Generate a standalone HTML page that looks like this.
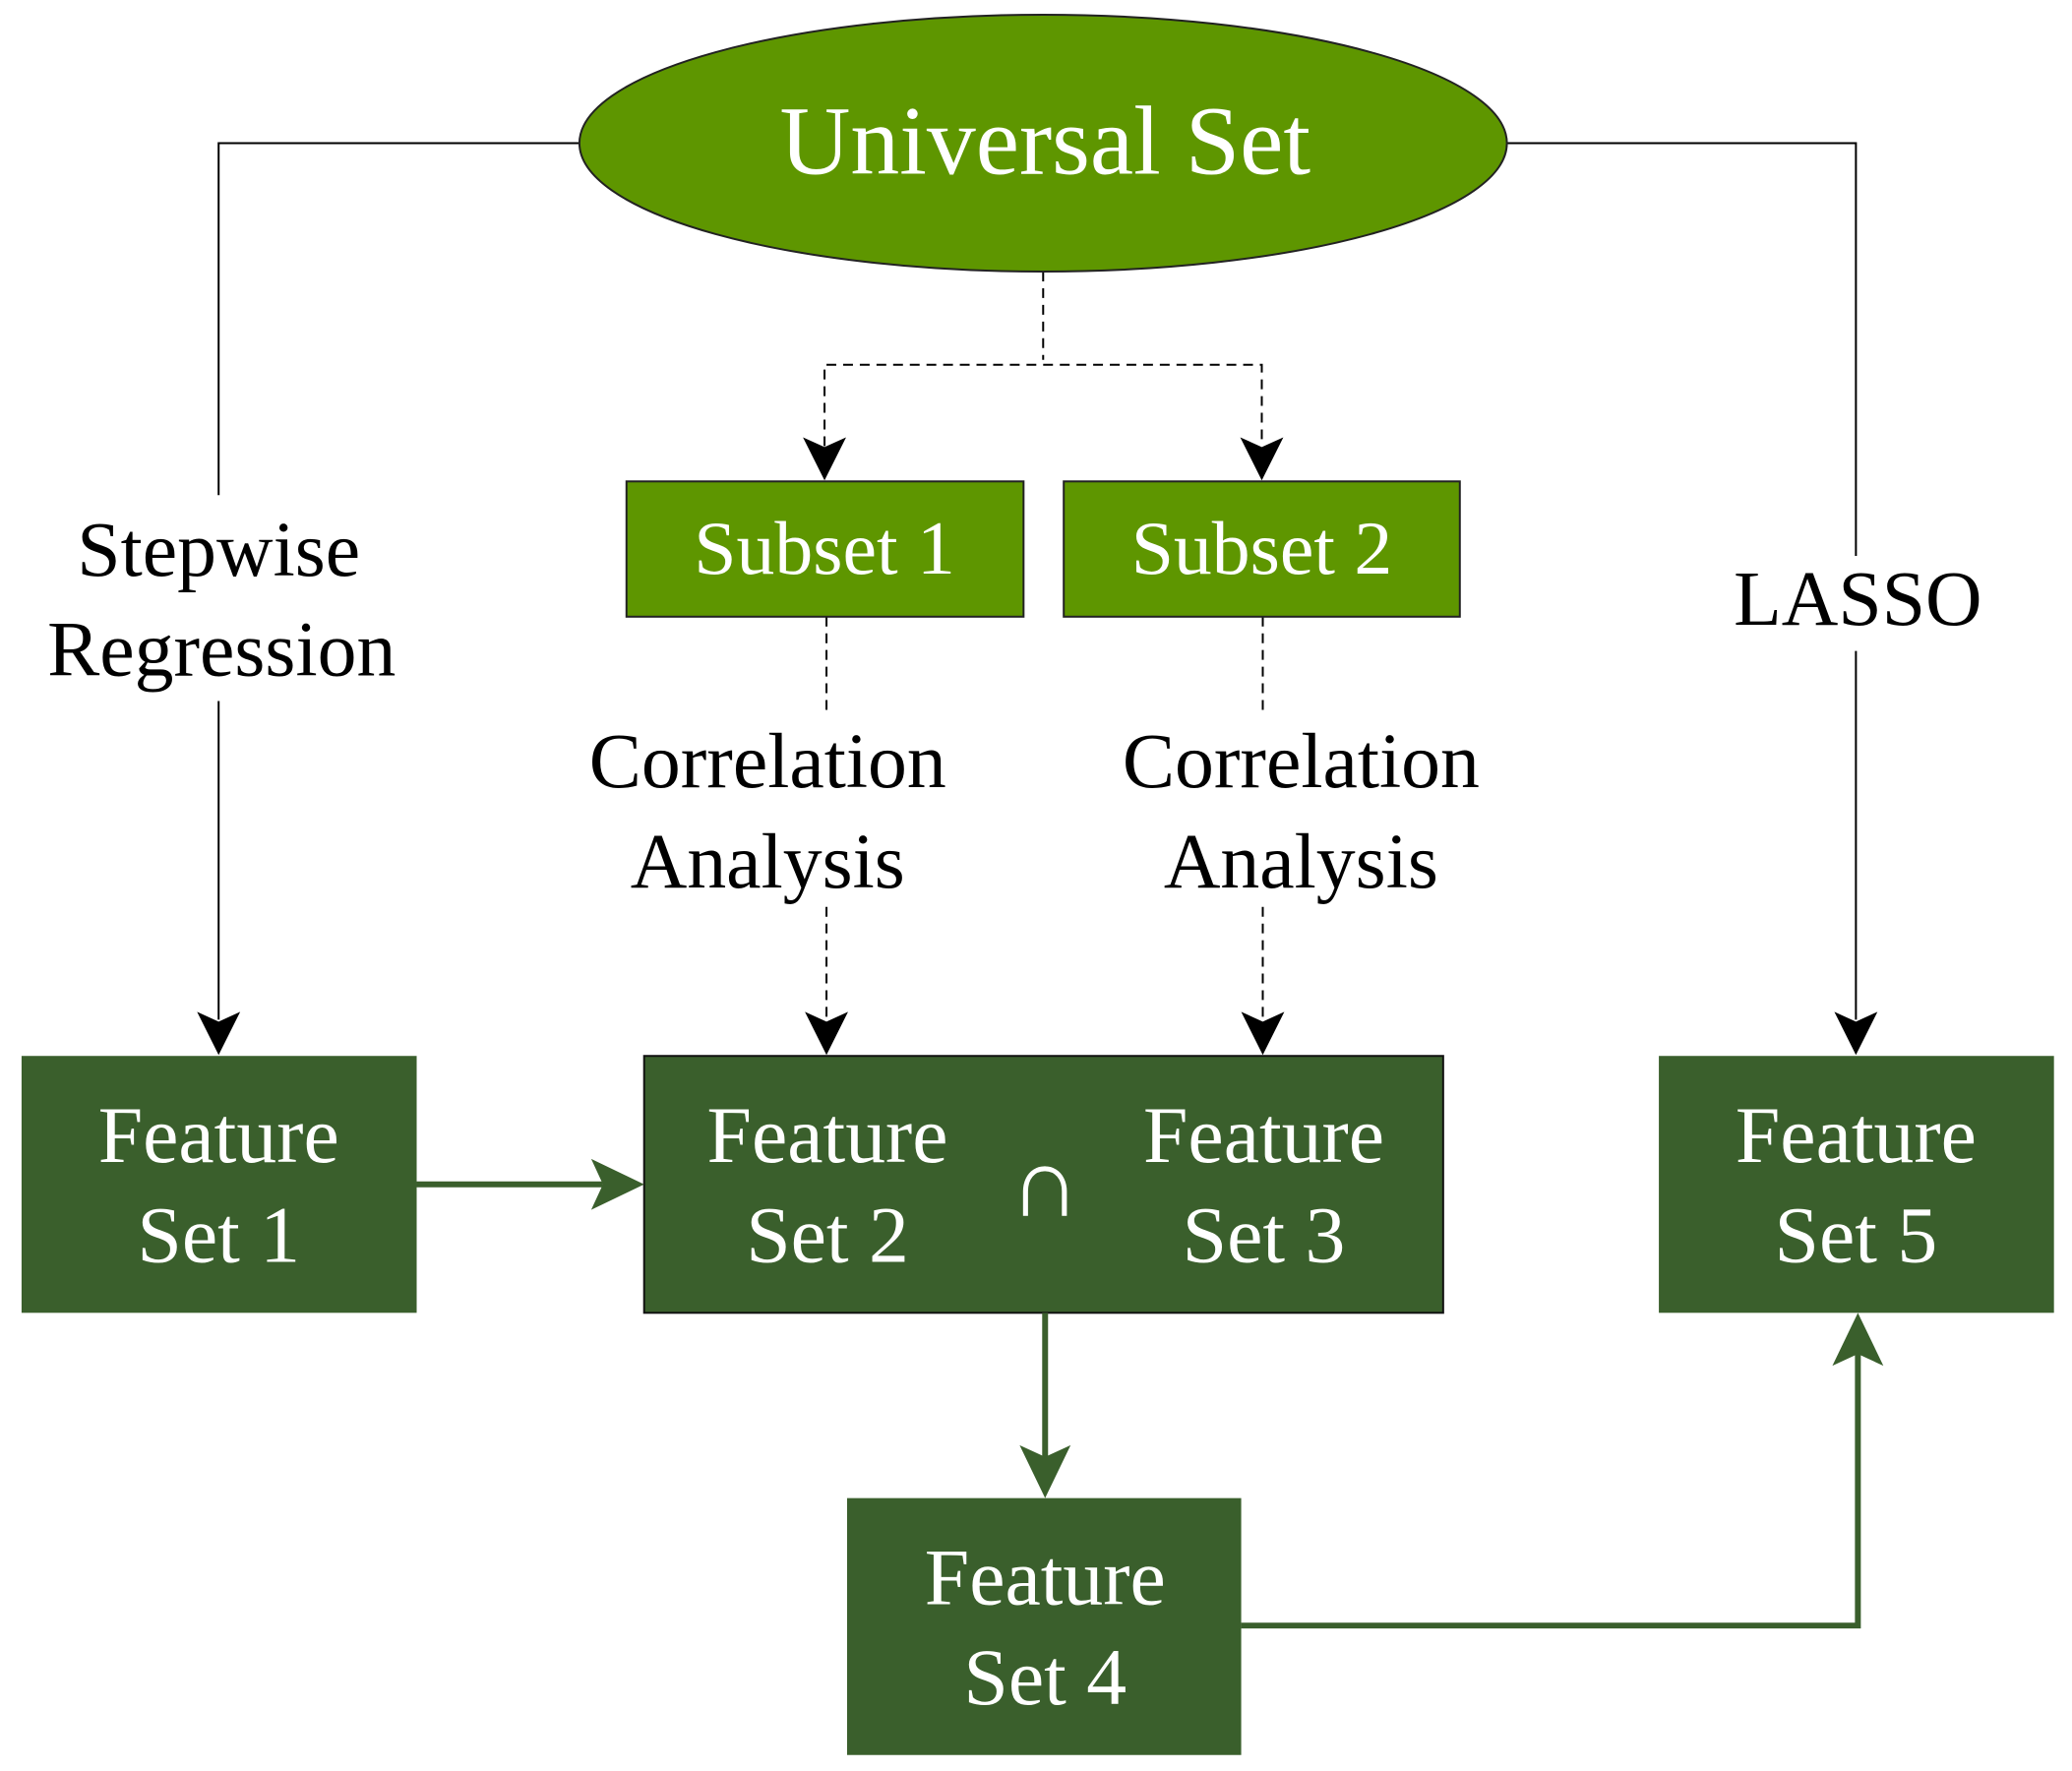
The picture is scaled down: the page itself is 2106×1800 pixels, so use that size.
<!DOCTYPE html>
<html><head><style>body{margin:0;background:#fff}svg{display:block}</style></head><body>
<svg width="2106" height="1800" viewBox="0 0 2106 1800" xmlns="http://www.w3.org/2000/svg" font-family="Liberation Serif, serif">
<g transform="scale(0.9965)">
<g stroke="#000" stroke-width="2" fill="none">
<polyline points="591,146 223,146 223,505"/>
<line x1="223" y1="715" x2="223" y2="1040"/>
<polyline points="1537,146 1893,146 1893,567"/>
<line x1="1893" y1="664" x2="1893" y2="1040"/>
<g stroke-dasharray="10,7">
<line x1="1064" y1="277" x2="1064" y2="367"/>
<polyline points="841,455 841,372 1287,372 1287,455"/>
<line x1="843" y1="629" x2="843" y2="729"/>
<line x1="1288" y1="629" x2="1288" y2="729"/>
<line x1="843" y1="925" x2="843" y2="1040"/>
<line x1="1288" y1="925" x2="1288" y2="1040"/>
</g>
</g>
<g fill="#000">
<path d="M201,1032 L223,1076 L245,1032 L223,1042 z"/>
<path d="M1871,1032 L1893,1076 L1915,1032 L1893,1042 z"/>
<path d="M819,446 L841,490 L863,446 L841,456 z"/>
<path d="M1265,446 L1287,490 L1309,446 L1287,456 z"/>
<path d="M821,1032 L843,1076 L865,1032 L843,1042 z"/>
<path d="M1266,1032 L1288,1076 L1310,1032 L1288,1042 z"/>
</g>
<ellipse cx="1064" cy="146" rx="473" ry="131" fill="#5e9600" stroke="#222" stroke-width="2"/>
<text x="1066" y="177" font-size="100" fill="#fff" text-anchor="middle">Universal Set</text>
<rect x="639" y="491" width="405" height="138" fill="#5e9600" stroke="#222" stroke-width="2"/>
<rect x="1085" y="491" width="404" height="138" fill="#5e9600" stroke="#222" stroke-width="2"/>
<text x="841" y="585" font-size="78" fill="#fff" text-anchor="middle">Subset 1</text>
<text x="1287" y="585" font-size="78" fill="#fff" text-anchor="middle">Subset 2</text>
<g font-size="80" fill="#000" text-anchor="middle">
<text x="223" y="587">Stepwise</text><text x="226" y="689">Regression</text>
<text x="1895" y="637">LASSO</text>
<text x="783" y="803">Correlation</text><text x="783" y="905">Analysis</text>
<text x="1327" y="803">Correlation</text><text x="1327" y="905">Analysis</text>
</g>
<rect x="22" y="1077" width="403" height="262" fill="#3a5f2c"/>
<rect x="657" y="1077" width="815" height="262" fill="#3a5f2c" stroke="#111" stroke-width="2"/>
<rect x="1692" y="1077" width="403" height="262" fill="#3a5f2c"/>
<rect x="864" y="1528" width="402" height="262" fill="#3a5f2c"/>
<g font-size="82" fill="#fff" text-anchor="middle">
<text x="223" y="1185">Feature</text><text x="223" y="1287">Set 1</text>
<text x="844" y="1185">Feature</text><text x="844" y="1287">Set 2</text>
<text x="1289" y="1185">Feature</text><text x="1289" y="1287">Set 3</text>
<text x="1066" y="1240" font-size="100">∩</text>
<text x="1893" y="1185">Feature</text><text x="1893" y="1287">Set 5</text>
<text x="1066" y="1636">Feature</text><text x="1066" y="1738">Set 4</text>
</g>
<g stroke="#3a5f2c" stroke-width="6" fill="none">
<line x1="425" y1="1208" x2="615" y2="1208"/>
<line x1="1066" y1="1339" x2="1066" y2="1490"/>
<polyline points="1266,1658 1895,1658 1895,1380"/>
</g>
<g fill="#3a5f2c">
<path d="M603,1182 L657,1208 L603,1234 L615,1208 z"/>
<path d="M1040,1474 L1066,1528 L1092,1474 L1066,1486 z"/>
<path d="M1869,1393 L1895,1339 L1921,1393 L1895,1381 z"/>
</g>
</g>
</svg>
</body></html>
